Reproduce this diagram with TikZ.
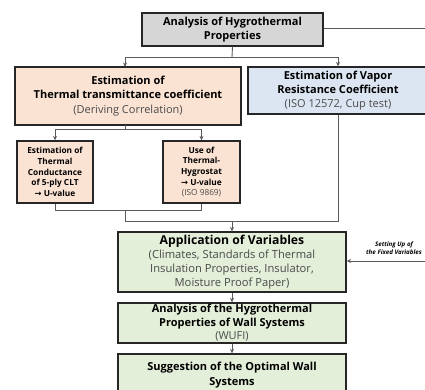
\documentclass[tikz,border=0pt]{standalone}
\usepackage{fontspec}
\setmainfont{Open Sans}
\newfontfamily\symf{DejaVu Sans}
\usetikzlibrary{arrows.meta}
\definecolor{bordc}{HTML}{262626}
\definecolor{linec}{HTML}{5A5A5A}
\definecolor{grayfill}{HTML}{D6D6D6}
\definecolor{peach}{HTML}{FBE3D4}
\definecolor{bluefill}{HTML}{DCE6F2}
\definecolor{greenfill}{HTML}{E3EFD9}
\definecolor{subtxt}{HTML}{4A4A4A}
\newcommand{\rarr}{{\symf\bfseries →}}
\begin{document}
\begin{tikzpicture}[x=1pt,y=-1pt,
  box/.style={draw=bordc,line width=1.3pt,align=center,inner sep=1pt,anchor=center},
  conn/.style={draw=linec,line width=0.9pt},
  arr/.style={conn,-{Stealth[length=4.5pt,width=4pt]}},
  bigtxt/.style={font=\bfseries\fontsize{11}{14.3}\selectfont},
  smtxt/.style={font=\bfseries\fontsize{8.3}{10.6}\selectfont}]
\useasboundingbox (0,0) rectangle (425,389);
\begin{scope}
\clip (0,0) rectangle (425,389);
% boxes
\node[box,fill=grayfill,minimum width=181pt,minimum height=33pt,bigtxt] (top) at (232.5,29.5) {Analysis of Hygrothermal\\Properties};
\node[box,fill=peach,minimum width=226pt,minimum height=58pt,bigtxt] (left) at (128,96) {Estimation of\\Thermal transmittance coefficient\\{\mdseries\color{subtxt}(Deriving Correlation)}};
\node[box,fill=bluefill,minimum width=180pt,minimum height=47pt,bigtxt] (right) at (338,90.5) {Estimation of Vapor\\Resistance Coefficient\\{\mdseries\color{subtxt}(ISO 12572, Cup test)}};
\node[box,fill=peach,minimum width=76pt,minimum height=62pt,smtxt] (sl) at (55,172) {Estimation of\\Thermal\\Conductance\\of 5-ply CLT\\\rarr{} U-value};
\node[box,fill=peach,minimum width=77pt,minimum height=62pt,smtxt] (sr) at (201.5,172) {Use of\\Thermal-\\Hygrostat\\\rarr{} U-value\\{\mdseries\color{subtxt}(ISO 9869)}};
\node[box,fill=greenfill,minimum width=228pt,minimum height=60pt,font=\fontsize{11.2}{14}\selectfont] (app) at (232,262) {{\bfseries\fontsize{12.2}{14}\selectfont Application of Variables}\\{\color{subtxt}(Climates, Standards of Thermal}\\{\color{subtxt}Insulation Properties, Insulator,}\\{\color{subtxt}Moisture Proof Paper)}};
\node[box,fill=greenfill,minimum width=228pt,minimum height=40pt,font=\bfseries\fontsize{11}{13.4}\selectfont] (wall) at (232,323) {Analysis of the Hygrothermal\\Properties of Wall Systems\\{\mdseries\color{subtxt}(WUFI)}};
\node[box,fill=greenfill,minimum width=228pt,minimum height=42pt,font=\bfseries\fontsize{11}{15}\selectfont] (opt) at (232,375) {Suggestion of the Optimal Wall\\Systems};
\node[font=\bfseries\itshape\fontsize{6.2}{8.6}\selectfont,align=center] (setlbl) at (394,248) {Setting Up of\\the Fixed Variables};
% connectors
\coordinate (j1) at (232,57);
\coordinate (j1l) at (125,57);
\coordinate (j1r) at (338,57);
\draw[conn] (top.south) -- (j1);
\draw[conn] (j1l) -- (j1r);
\draw[arr] (j1l) -- (125,67);
\draw[arr] (j1r) -- (right.north);
\coordinate (tr) at (430,28);
\draw[conn] (top.east |- tr) -- (tr);
\coordinate (j2) at (125,129);
\coordinate (j2l) at (55,129);
\coordinate (j2r) at (201.5,129);
\draw[conn] (125,125) -- (j2);
\draw[conn] (j2l) -- (j2r);
\draw[arr] (j2l) -- (sl.north);
\draw[arr] (j2r) -- (sr.north);
\coordinate (j3) at (125,210);
\draw[conn] (sl.south) -- (55,210) -- (201.5,210) -- (sr.south);
\coordinate (j4) at (125,221);
\draw[conn] (j3) -- (j4) -- (338,221) -- (right.south);
\draw[arr] (232,221) -- (app.north);
\coordinate (sr1) at (430,261);
\draw[arr] (sr1) -- (app.east |- sr1);
\draw[arr] (app.south) -- (wall.north);
\draw[arr] (wall.south) -- (opt.north);
\end{scope}
\end{tikzpicture}
\end{document}
